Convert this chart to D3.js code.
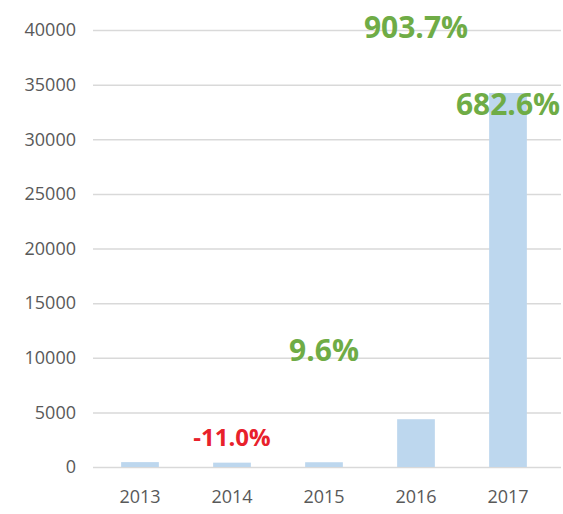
<!DOCTYPE html>
<html>
<head>
<meta charset="utf-8">
<script src="https://cdn.jsdelivr.net/npm/d3@7/dist/d3.min.js"></script>
<style>
  html, body { margin: 0; padding: 0; background: #fff; }
  svg { display: block; }
</style>
</head>
<body>
<svg id="chart" width="563" height="514"></svg>
<script>
// ---- data ----
const years = ["2013", "2014", "2015", "2016", "2017"];
const values = [447, 398, 436, 4374, 34233];
const yTicks = [0, 5000, 10000, 15000, 20000, 25000, 30000, 35000, 40000];
const growthLabels = ["-11.0%", "9.6%", "903.7%", "682.6%"];
const growthYears = ["2014", "2015", "2016", "2017"];

// ---- drawing ----
const svg = d3.select("#chart");
const W = 563, H = 514;
const margin = { left: 94, right: 9, top: 30, bottom: 47 };

const x = d3.scaleBand()
  .domain(years)
  .range([margin.left, W - margin.right])
  .paddingInner(0.59)
  .paddingOuter(0.295);

const y = d3.scaleLinear()
  .domain([0, 40000])
  .range([H - margin.bottom, margin.top]);

// gridlines
svg.append("g")
  .selectAll("line")
  .data(yTicks)
  .join("line")
  .attr("x1", 93)
  .attr("x2", 561)
  .attr("y1", d => y(d) + 0.5)
  .attr("y2", d => y(d) + 0.5)
  .attr("stroke", "#d9d9d9")
  .attr("stroke-width", 1.5);

// y axis labels
const yAxis = d3.axisLeft(y).tickValues(yTicks).tickFormat(d3.format("d")).tickSize(0).tickPadding(0);
const gy = svg.append("g")
  .attr("transform", `translate(76,0)`)
  .call(yAxis);
gy.select(".domain").remove();
gy.selectAll("text")
  .attr("fill", "#595959")
  .style("font-family", "'Open Sans', sans-serif")
  .style("font-size", "18px");

// x axis labels
const xAxis = d3.axisBottom(x).tickSize(0).tickPadding(0);
const gx = svg.append("g")
  .attr("transform", `translate(0,${y(0) + 23})`)
  .call(xAxis);
gx.select(".domain").remove();
gx.selectAll("text")
  .attr("fill", "#595959")
  .style("font-family", "'Open Sans', sans-serif")
  .style("font-size", "18px");

// bars
svg.append("g")
  .selectAll("rect")
  .data(years.map((yr, i) => ({ yr, v: values[i] })))
  .join("rect")
  .attr("x", d => x(d.yr))
  .attr("width", x.bandwidth())
  .attr("y", d => y(d.v))
  .attr("height", d => y(0) - y(d.v))
  .attr("fill", "#bdd7ee");

// growth labels (layout: value-level anchor & size per label)
const labelLayout = {
  "2014": { at: 1900, size: 24, color: "#e8212b" },
  "2015": { at: 9700, size: 30, color: "#6fac46" },
  "2016": { at: 39300, size: 30, color: "#6fac46" },
  "2017": { at: 32200, size: 30, color: "#6fac46" }
};
svg.append("g")
  .selectAll("text")
  .data(growthLabels.map((t, i) => ({ t, yr: growthYears[i] })))
  .join("text")
  .attr("x", d => x(d.yr) + x.bandwidth() / 2)
  .attr("y", d => y(labelLayout[d.yr].at))
  .attr("text-anchor", "middle")
  .attr("fill", d => labelLayout[d.yr].color)
  .style("font-family", "'Open Sans', sans-serif")
  .style("font-weight", "bold")
  .style("font-size", d => labelLayout[d.yr].size + "px")
  .text(d => d.t);
</script>
</body>
</html>
